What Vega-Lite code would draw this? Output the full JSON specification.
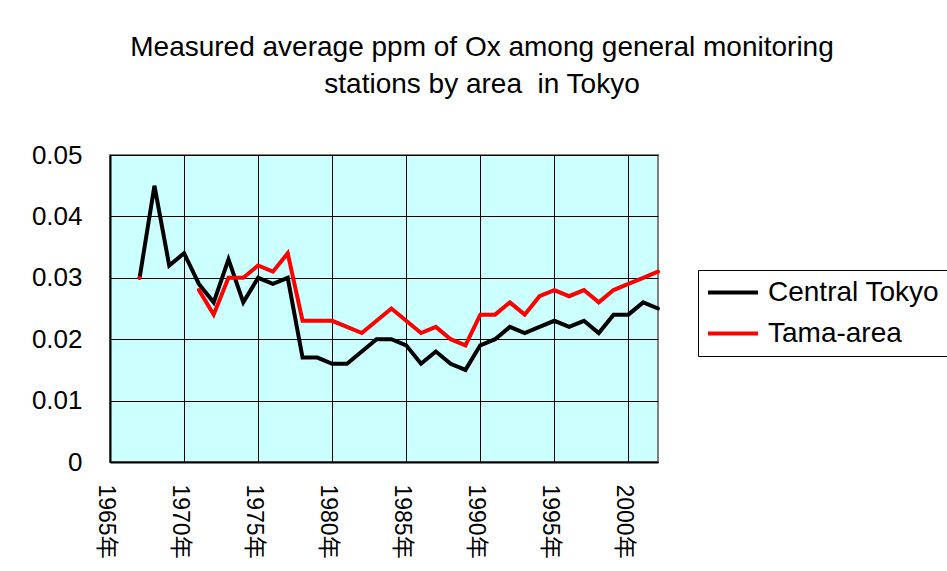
{
  "$schema": "https://vega.github.io/schema/vega-lite/v6.json",
  "width": 548,
  "height": 307,
  "autosize": "none",
  "padding": {"left": 110, "top": 155, "right": 289, "bottom": 109},
  "background": "white",
  "title": {
    "text": ["Measured average ppm of Ox among general monitoring", "stations by area \u00a0in Tokyo"],
    "font": "Liberation Sans",
    "fontSize": 28,
    "fontWeight": "normal",
    "color": "black",
    "lineHeight": 37,
    "anchor": "middle",
    "frame": "group",
    "dx": 98,
    "offset": 43
  },
  "config": {
    "view": {"fill": "#CCFFFF", "stroke": "#808080", "strokeWidth": 2},
    "axis": {"grid": true, "gridColor": "black", "gridWidth": 1, "gridOpacity": 1, "domainColor": "black", "domainWidth": 2, "ticks": false, "labelColor": "black", "labelFont": "Liberation Sans, Noto Sans CJK JP", "title": null}
  },
  "data": {
    "values": [
      {"year": 1967, "area": "Central Tokyo", "ppm": 0.030},
      {"year": 1968, "area": "Central Tokyo", "ppm": 0.045},
      {"year": 1969, "area": "Central Tokyo", "ppm": 0.032},
      {"year": 1970, "area": "Central Tokyo", "ppm": 0.034},
      {"year": 1971, "area": "Central Tokyo", "ppm": 0.029},
      {"year": 1972, "area": "Central Tokyo", "ppm": 0.026},
      {"year": 1973, "area": "Central Tokyo", "ppm": 0.033},
      {"year": 1974, "area": "Central Tokyo", "ppm": 0.026},
      {"year": 1975, "area": "Central Tokyo", "ppm": 0.030},
      {"year": 1976, "area": "Central Tokyo", "ppm": 0.029},
      {"year": 1977, "area": "Central Tokyo", "ppm": 0.030},
      {"year": 1978, "area": "Central Tokyo", "ppm": 0.017},
      {"year": 1979, "area": "Central Tokyo", "ppm": 0.017},
      {"year": 1980, "area": "Central Tokyo", "ppm": 0.016},
      {"year": 1981, "area": "Central Tokyo", "ppm": 0.016},
      {"year": 1982, "area": "Central Tokyo", "ppm": 0.018},
      {"year": 1983, "area": "Central Tokyo", "ppm": 0.020},
      {"year": 1984, "area": "Central Tokyo", "ppm": 0.020},
      {"year": 1985, "area": "Central Tokyo", "ppm": 0.019},
      {"year": 1986, "area": "Central Tokyo", "ppm": 0.016},
      {"year": 1987, "area": "Central Tokyo", "ppm": 0.018},
      {"year": 1988, "area": "Central Tokyo", "ppm": 0.016},
      {"year": 1989, "area": "Central Tokyo", "ppm": 0.015},
      {"year": 1990, "area": "Central Tokyo", "ppm": 0.019},
      {"year": 1991, "area": "Central Tokyo", "ppm": 0.020},
      {"year": 1992, "area": "Central Tokyo", "ppm": 0.022},
      {"year": 1993, "area": "Central Tokyo", "ppm": 0.021},
      {"year": 1994, "area": "Central Tokyo", "ppm": 0.022},
      {"year": 1995, "area": "Central Tokyo", "ppm": 0.023},
      {"year": 1996, "area": "Central Tokyo", "ppm": 0.022},
      {"year": 1997, "area": "Central Tokyo", "ppm": 0.023},
      {"year": 1998, "area": "Central Tokyo", "ppm": 0.021},
      {"year": 1999, "area": "Central Tokyo", "ppm": 0.024},
      {"year": 2000, "area": "Central Tokyo", "ppm": 0.024},
      {"year": 2001, "area": "Central Tokyo", "ppm": 0.026},
      {"year": 2002, "area": "Central Tokyo", "ppm": 0.025},
      {"year": 1967, "area": "Tama-area", "ppm": 0.030},
      {"year": 1968, "area": "Tama-area", "ppm": null},
      {"year": 1969, "area": "Tama-area", "ppm": null},
      {"year": 1970, "area": "Tama-area", "ppm": null},
      {"year": 1971, "area": "Tama-area", "ppm": 0.028},
      {"year": 1972, "area": "Tama-area", "ppm": 0.024},
      {"year": 1973, "area": "Tama-area", "ppm": 0.030},
      {"year": 1974, "area": "Tama-area", "ppm": 0.030},
      {"year": 1975, "area": "Tama-area", "ppm": 0.032},
      {"year": 1976, "area": "Tama-area", "ppm": 0.031},
      {"year": 1977, "area": "Tama-area", "ppm": 0.034},
      {"year": 1978, "area": "Tama-area", "ppm": 0.023},
      {"year": 1979, "area": "Tama-area", "ppm": 0.023},
      {"year": 1980, "area": "Tama-area", "ppm": 0.023},
      {"year": 1981, "area": "Tama-area", "ppm": 0.022},
      {"year": 1982, "area": "Tama-area", "ppm": 0.021},
      {"year": 1983, "area": "Tama-area", "ppm": 0.023},
      {"year": 1984, "area": "Tama-area", "ppm": 0.025},
      {"year": 1985, "area": "Tama-area", "ppm": 0.023},
      {"year": 1986, "area": "Tama-area", "ppm": 0.021},
      {"year": 1987, "area": "Tama-area", "ppm": 0.022},
      {"year": 1988, "area": "Tama-area", "ppm": 0.020},
      {"year": 1989, "area": "Tama-area", "ppm": 0.019},
      {"year": 1990, "area": "Tama-area", "ppm": 0.024},
      {"year": 1991, "area": "Tama-area", "ppm": 0.024},
      {"year": 1992, "area": "Tama-area", "ppm": 0.026},
      {"year": 1993, "area": "Tama-area", "ppm": 0.024},
      {"year": 1994, "area": "Tama-area", "ppm": 0.027},
      {"year": 1995, "area": "Tama-area", "ppm": 0.028},
      {"year": 1996, "area": "Tama-area", "ppm": 0.027},
      {"year": 1997, "area": "Tama-area", "ppm": 0.028},
      {"year": 1998, "area": "Tama-area", "ppm": 0.026},
      {"year": 1999, "area": "Tama-area", "ppm": 0.028},
      {"year": 2000, "area": "Tama-area", "ppm": 0.029},
      {"year": 2001, "area": "Tama-area", "ppm": 0.030},
      {"year": 2002, "area": "Tama-area", "ppm": 0.031}
    ]
  },
  "mark": {"type": "line", "strokeWidth": 4, "strokeCap": "round", "strokeJoin": "miter"},
  "encoding": {
    "x": {
      "field": "year", "type": "quantitative",
      "scale": {"domain": [1965, 2002], "nice": false, "zero": false},
      "axis": {"values": [1965, 1970, 1975, 1980, 1985, 1990, 1995, 2000], "labelExpr": "datum.value + '年'", "labelAngle": 90, "labelAlign": "left", "labelBaseline": "middle", "labelFontSize": 23, "labelPadding": 22, "labelOffset": -5, "labelFlush": false, "labelOverlap": false}
    },
    "y": {
      "field": "ppm", "type": "quantitative",
      "scale": {"domain": [0, 0.05], "nice": false},
      "axis": {"values": [0, 0.01, 0.02, 0.03, 0.04, 0.05], "format": ".2~f", "labelFontSize": 26, "labelPadding": 28}
    },
    "color": {
      "field": "area", "type": "nominal",
      "scale": {"domain": ["Central Tokyo", "Tama-area"], "range": ["#000000", "#FF0000"]},
      "legend": {"title": null, "orient": "none", "legendX": 588, "legendY": 115, "symbolType": "M-1,0H3", "symbolSize": 625, "symbolStrokeWidth": 4, "symbolFillColor": "transparent", "labelFontSize": 28, "labelFont": "Liberation Sans", "labelColor": "black", "labelLimit": 400, "strokeColor": "black", "padding": 8, "rowPadding": 12, "labelOffset": 33, "fillColor": "white"}
    }
  }
}
